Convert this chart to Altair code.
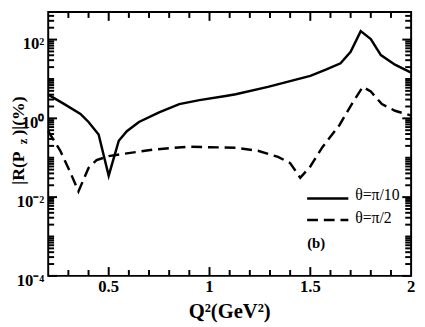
import altair as alt
import pandas as pd

# ---- data ----
q_solid = [0.20, 0.28, 0.36, 0.40, 0.45, 0.50, 0.55, 0.59, 0.65, 0.75, 0.85, 0.95,
           1.08, 1.13, 1.29, 1.50, 1.58, 1.65, 1.70, 1.75, 1.80, 1.85, 1.92, 2.00]
r_solid = [4.0, 2.3, 1.3, 0.81, 0.39, 0.035, 0.27, 0.47, 0.81, 1.42, 2.3, 2.9,
           3.7, 4.1, 6.3, 12.0, 17.5, 25.0, 49.0, 164.0, 103.0, 40.5, 23.0, 14.5]

q_dash = [0.20, 0.26, 0.31, 0.35, 0.40, 0.44, 0.50, 0.58, 0.72, 0.89, 1.00, 1.13,
          1.24, 1.34, 1.40, 1.45, 1.50, 1.56, 1.645, 1.71, 1.76, 1.80, 1.855, 1.92, 2.00]
r_dash = [0.47, 0.15, 0.042, 0.014, 0.055, 0.087, 0.11, 0.127, 0.16, 0.19, 0.185, 0.18,
          0.15, 0.105, 0.073, 0.031, 0.06, 0.185, 0.68, 2.5, 6.3, 4.8, 2.3, 1.56, 1.18]

x_major = [0.5, 1.0, 1.5]
x_minor = [0.3, 0.4, 0.6, 0.7, 0.8, 0.9, 1.1, 1.2, 1.3, 1.4, 1.6, 1.7, 1.8, 1.9]
x_label_vals = [0.5, 1.0, 1.5, 2.0]
x_label_txt = ["0.5", "1", "1.5", "2"]

y_major = [1e-4, 1e-2, 1.0, 1e2]
y_label_txt = ["10\u207b\u2074", "10\u207b\u00b2", "10\u2070", "10\u00b2"]
y_minor = [k * 10.0 ** n for n in range(-4, 3) for k in range(1, 10)
           if not (k == 1 and n % 2 == 0) and k * 10.0 ** n <= 500]

series_names = ["\u03b8=\u03c0/10", "\u03b8=\u03c0/2"]

W, H = 370, 269
FONT = "Liberation Serif"

xs = alt.Scale(domain=[0.2, 2.0], nice=False, zero=False)
ys = alt.Scale(type="log", domain=[1e-4, 500], nice=False)


def xticks(vals, length):
    d = pd.DataFrame({"xt": vals})
    return [
        alt.Chart(d).mark_rule(color="#000000", strokeWidth=2).encode(
            x=alt.X("xt:Q", scale=xs, axis=None), y=alt.value(y0), y2=alt.value(y1))
        for (y0, y1) in ((H, H - length), (0, length))
    ]


def yticks(vals, length):
    d = pd.DataFrame({"yt": vals})
    return [
        alt.Chart(d).mark_rule(color="#000000", strokeWidth=2).encode(
            y=alt.Y("yt:Q", scale=ys, axis=None), x=alt.value(x0), x2=alt.value(x1))
        for (x0, x1) in ((0, length), (W, W - length))
    ]


ticks = xticks(x_major, 9) + xticks(x_minor, 6) + yticks(y_major, 9) + yticks(y_minor, 6)

solid_df = pd.DataFrame({"q": q_solid, "r": r_solid})
dash_df = pd.DataFrame({"q": q_dash, "r": r_dash})

solid = alt.Chart(solid_df).mark_line(color="black", strokeWidth=2.5).encode(
    x=alt.X("q:Q", scale=xs, axis=None), y=alt.Y("r:Q", scale=ys, axis=None))
dash = alt.Chart(dash_df).mark_line(color="black", strokeWidth=2.5, strokeDash=[11, 6]).encode(
    x=alt.X("q:Q", scale=xs, axis=None), y=alt.Y("r:Q", scale=ys, axis=None))

xlab = alt.Chart(pd.DataFrame({"xl": x_label_vals, "t": x_label_txt})).mark_text(
    font=FONT, fontSize=17, fontWeight="bold", baseline="alphabetic", color="black").encode(
    x=alt.X("xl:Q", scale=xs, axis=None), y=alt.value(285), text="t:N")

ylab = alt.Chart(pd.DataFrame({"yl": y_major, "t": y_label_txt})).mark_text(
    font=FONT, fontSize=17, fontWeight="bold", align="right", baseline="middle", dy=5, color="black").encode(
    y=alt.Y("yl:Q", scale=ys, axis=None), x=alt.value(-4), text="t:N")

xtitle = alt.Chart(pd.DataFrame({"t": ["Q\u00b2(GeV\u00b2)"]})).mark_text(
    font=FONT, fontSize=21, fontWeight="bold", baseline="alphabetic", color="black").encode(
    x=alt.value(W / 2), y=alt.value(312), text="t:N")

yt1 = alt.Chart(pd.DataFrame({"t": ["|R(P"]})).mark_text(
    font=FONT, fontSize=18, fontWeight="bold", angle=270, align="left", baseline="alphabetic", color="black").encode(
    x=alt.value(-25), y=alt.value(176), text="t:N")
yt2 = alt.Chart(pd.DataFrame({"t": ["z"]})).mark_text(
    font=FONT, fontSize=13, fontWeight="bold", angle=270, align="center", baseline="alphabetic", color="black").encode(
    x=alt.value(-22), y=alt.value(132), text="t:N")
yt3 = alt.Chart(pd.DataFrame({"t": [")|(%)"]})).mark_text(
    font=FONT, fontSize=18, fontWeight="bold", angle=270, align="right", baseline="alphabetic", color="black").encode(
    x=alt.value(-25), y=alt.value(86), text="t:N")

leg_solid = alt.Chart(pd.DataFrame({"t": [series_names[0]]})).mark_rule(color="black", strokeWidth=2.5).encode(
    x=alt.value(264), x2=alt.value(306), y=alt.value(190))
leg_dash = alt.Chart(pd.DataFrame({"t": [series_names[1]]})).mark_rule(color="black", strokeWidth=2.5, strokeDash=[11, 6]).encode(
    x=alt.value(264), x2=alt.value(306), y=alt.value(212))
leg_t1 = alt.Chart(pd.DataFrame({"t": [series_names[0]]})).mark_text(
    font=FONT, fontSize=16, align="left", baseline="middle", color="black").encode(
    x=alt.value(313), y=alt.value(187), text="t:N")
leg_t2 = alt.Chart(pd.DataFrame({"t": [series_names[1]]})).mark_text(
    font=FONT, fontSize=16, align="left", baseline="middle", color="black").encode(
    x=alt.value(313), y=alt.value(210), text="t:N")
panel = alt.Chart(pd.DataFrame({"t": ["(b)"]})).mark_text(
    font=FONT, fontSize=15, fontWeight="bold", align="left", baseline="middle", color="black").encode(
    x=alt.value(264), y=alt.value(236), text="t:N")

chart = alt.layer(
    *ticks, solid, dash, xlab, ylab, xtitle, yt1, yt2, yt3,
    leg_solid, leg_dash, leg_t1, leg_t2, panel
).properties(
    width=W, height=H,
    autosize=alt.AutoSizeParams(type="none"),
    padding={"left": 41, "top": 1, "right": 6, "bottom": 50},
).configure_view(stroke="black", strokeWidth=2)

chart.save("out.html", embed_options={"renderer": "svg", "actions": False})
